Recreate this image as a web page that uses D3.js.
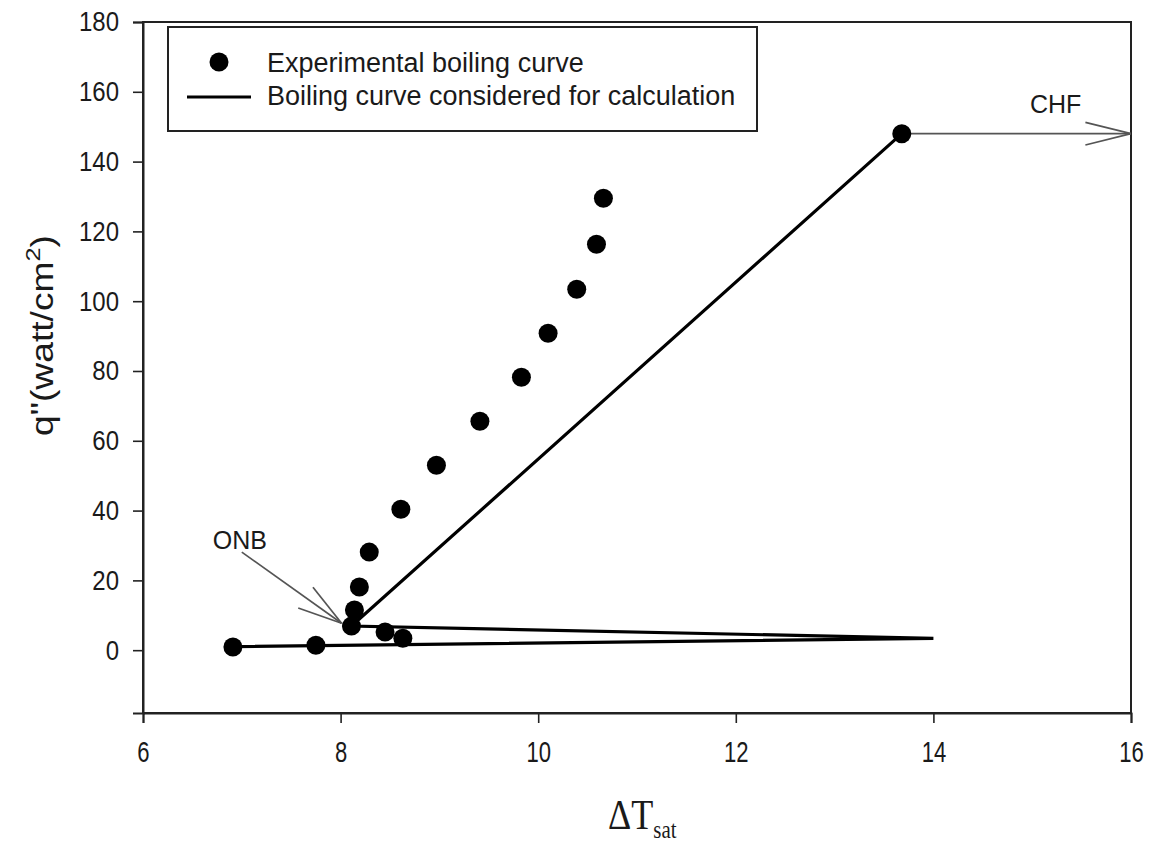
<!DOCTYPE html>
<html>
<head>
<meta charset="utf-8">
<script src="https://cdn.jsdelivr.net/npm/d3@7"></script>
<style>
  body { margin: 0; background: #fff; }
  text { font-family: "Liberation Sans", Arial, sans-serif; fill: #1a1a1a; }
</style>
</head>
<body>
<script>
const width = 1158;
const height = 843;

// experimental boiling curve (points)
const expX = [6.91, 7.75, 8.11, 8.14, 8.19, 8.29, 8.61, 8.97, 9.41, 9.83, 10.10, 10.39, 10.59, 10.66, 8.45, 8.63, 13.68];
const expY = [0.9, 1.4, 6.9, 11.5, 18.1, 28.1, 40.4, 53.0, 65.6, 78.2, 90.8, 103.4, 116.3, 129.5, 5.2, 3.4, 148.0];

// boiling curve considered for calculation (line, in drawing order)
const calcX = [6.91, 14.0, 8.11, 13.68];
const calcY = [1.0, 3.4, 6.9, 148.0];

// annotation arrows [from, to]
const onbArrow = [[7.0, 28.1], [8.01, 7.7]];
const chfArrow = [[13.68, 148.0], [16.0, 148.0]];

const xTicks = [6, 8, 10, 12, 14, 16];
const yTicks = [0, 20, 40, 60, 80, 100, 120, 140, 160, 180];

const margin = {left: 143, right: 1131, top: 22, bottom: 713};

const x = d3.scaleLinear().domain([6, 16]).range([margin.left, margin.right]);
const y = d3.scaleLinear().domain([-18, 180]).range([margin.bottom, margin.top]);

const svg = d3.select('body')
    .append('svg')
    .attr('width', width)
    .attr('height', height);

// frame
svg.append('rect')
    .attr('x', margin.left)
    .attr('y', margin.top)
    .attr('width', margin.right - margin.left)
    .attr('height', margin.bottom - margin.top)
    .attr('fill', 'none')
    .attr('stroke', '#222')
    .attr('stroke-width', 2);

// axes
const xAxis = svg.append('g')
    .attr('transform', `translate(0,${margin.bottom})`)
    .call(d3.axisBottom(x).tickValues(xTicks).tickSize(10).tickPadding(14).tickFormat(d3.format('d')));
const yAxis = svg.append('g')
    .attr('transform', `translate(${margin.left},0)`)
    .call(d3.axisLeft(y).tickValues(yTicks).tickSize(10).tickPadding(14).tickFormat(d3.format('d')));

[xAxis, yAxis].forEach(a => {
    a.select('.domain').attr('stroke', '#222').attr('stroke-width', 2);
    a.selectAll('.tick line').attr('stroke', '#222').attr('stroke-width', 1.6);
    a.selectAll('.tick text')
        .attr('font-size', 24)
        .attr('fill', '#1a1a1a')
        .style('font-family', '"Liberation Sans", Arial, sans-serif');
});
// taller glyphs like the reference
yAxis.selectAll('.tick text').attr('transform', 'scale(1,1.15)');
xAxis.selectAll('.tick text').attr('transform', 'scale(0.92,1.2)');

// calc line
const line = d3.line().x(d => x(d[0])).y(d => y(d[1]));
svg.append('path')
    .datum(calcX.map((v, i) => [v, calcY[i]]))
    .attr('d', line)
    .attr('fill', 'none')
    .attr('stroke', '#000')
    .attr('stroke-width', 3.2)
    .attr('stroke-linejoin', 'miter');

// arrows (open heads)
const drawArrow = (pts, len, ang) => {
    const x0 = x(pts[0][0]), y0 = y(pts[0][1]);
    const x1 = x(pts[1][0]), y1 = y(pts[1][1]);
    const a = Math.atan2(y0 - y1, x0 - x1);
    const g = svg.append('g')
        .attr('stroke', '#555')
        .attr('stroke-width', 1.7)
        .attr('fill', 'none');
    g.append('line').attr('x1', x0).attr('y1', y0).attr('x2', x1).attr('y2', y1);
    [-ang, ang].forEach(s => {
        g.append('line')
            .attr('x1', x1).attr('y1', y1)
            .attr('x2', x1 + len * Math.cos(a + s))
            .attr('y2', y1 + len * Math.sin(a + s));
    });
};
drawArrow(onbArrow, 46, 16 * Math.PI / 180);
drawArrow(chfArrow, 47, 14 * Math.PI / 180);

// points
svg.append('g')
    .selectAll('circle')
    .data(expX.map((v, i) => [v, expY[i]]))
    .enter()
    .append('circle')
    .attr('cx', d => x(d[0]))
    .attr('cy', d => y(d[1]))
    .attr('r', 9.5)
    .attr('fill', '#000');

// annotation text
svg.append('text')
    .attr('x', x(onbArrow[0][0]) - 29)
    .attr('y', y(onbArrow[0][1]) - 3)
    .attr('font-size', 25)
    .text('ONB');
svg.append('text')
    .attr('x', 1030)
    .attr('y', 113)
    .attr('font-size', 25)
    .text('CHF');

// legend
const lg = svg.append('g');
lg.append('rect')
    .attr('x', 168).attr('y', 27)
    .attr('width', 589).attr('height', 104)
    .attr('fill', '#fff')
    .attr('stroke', '#222')
    .attr('stroke-width', 2);
lg.append('circle').attr('cx', 219).attr('cy', 62).attr('r', 9.5).attr('fill', '#000');
lg.append('line')
    .attr('x1', 187).attr('x2', 251)
    .attr('y1', 97).attr('y2', 97)
    .attr('stroke', '#000').attr('stroke-width', 3.2);
lg.append('text').attr('x', 267).attr('y', 72).attr('font-size', 27).text('Experimental boiling curve');
lg.append('text').attr('x', 267).attr('y', 105).attr('font-size', 27).text('Boiling curve considered for calculation');

// axis titles
svg.append('text')
    .attr('transform', `translate(53,${(margin.top + margin.bottom) / 2 - 32}) rotate(-90) scale(1.2,1)`)
    .attr('text-anchor', 'middle')
    .attr('font-size', 31)
    .html('q"(watt/cm<tspan dy="-13" font-size="21">2</tspan><tspan dy="13">)</tspan>');

const xl = svg.append('text')
    .attr('transform', 'translate(608,829) scale(0.95,1.12)')
    .style('font-family', '"Liberation Serif", "Times New Roman", serif')
    .attr('font-size', 38);
xl.append('tspan').text('\u0394T');
xl.append('tspan').attr('dy', 8).attr('font-size', 22).text('sat');
</script>
</body>
</html>
